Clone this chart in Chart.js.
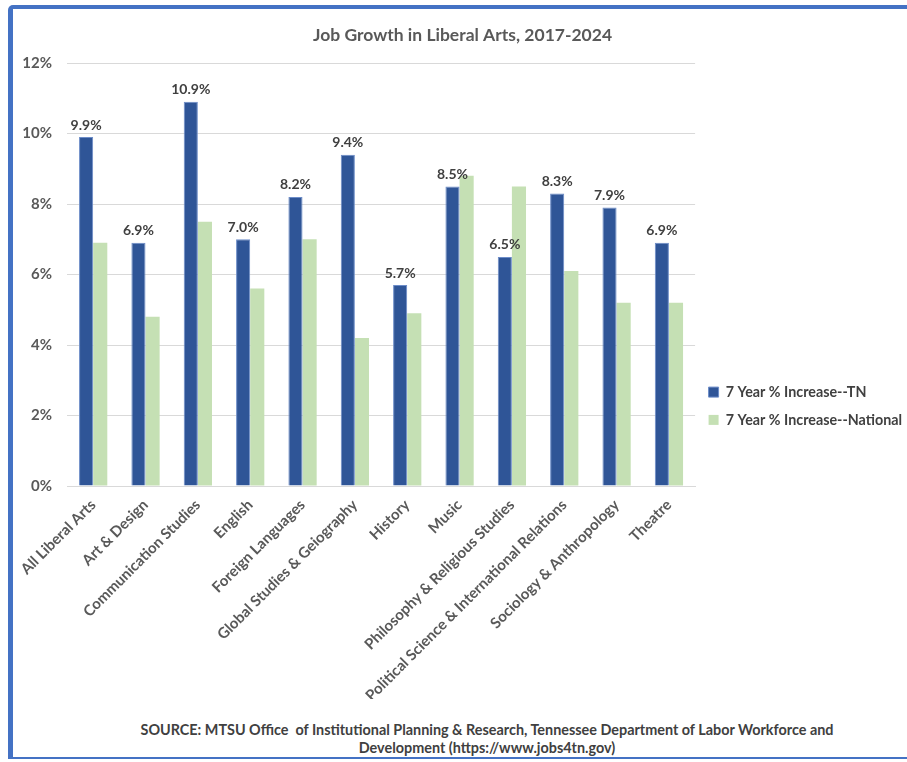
<!DOCTYPE html>
<html>
<head>
<meta charset="utf-8">
<script src="https://cdn.jsdelivr.net/npm/chart.js@4.4.1/dist/chart.umd.min.js"></script>
<style>
    body { margin: 0; background: #fff; width: 907px; height: 762px; overflow: hidden; }
    #frame {
        position: absolute; left: 8px; top: 5px; width: 910px; height: 748px;
        border-left: 5px solid #4472C4; border-top: 4px solid #4472C4;
        border-bottom: 2px solid #4472C4; border-top-left-radius: 5px;
    }
    #wrap { position: absolute; left: 0; top: 0; width: 899px; height: 690px; }
    #source {
        position: absolute; left: 0; width: 974px; top: 721px; text-align: center;
        font: bold 14.4px Lato, sans-serif; color: #404040; line-height: 18px;
    }
</style>
</head>
<body>
<div id="frame">
    <div id="wrap"><canvas id="chart"></canvas></div>
</div>
<div id="source">SOURCE: MTSU Office&nbsp; of Institutional Planning &amp; Research, Tennessee Department of Labor Workforce and<br>Development (https://www.jobs4tn.gov)</div>
<script>
const categories = [
    "All Liberal Arts", "Art & Design", "Communication Studies", "English",
    "Foreign Languages", "Global Studies & Geiography", "History", "Music",
    "Philosophy & Religious Studies", "Political Science & International Relations",
    "Sociology & Anthropology", "Theatre"
];
const tnGrowth = [9.9, 6.9, 10.9, 7.0, 8.2, 9.4, 5.7, 8.5, 6.5, 8.3, 7.9, 6.9];
const nationalGrowth = [6.9, 4.8, 7.5, 5.6, 7.0, 4.2, 4.9, 8.8, 8.5, 6.1, 5.2, 5.2];
const yTicks = [0, 2, 4, 6, 8, 10, 12];

// labels over the TN bars only
const tnLabels = {
    id: "tnLabels",
    afterDatasetsDraw(chart) {
        let ctx = chart.ctx;
        let meta = chart.getDatasetMeta(0);
        ctx.save();
        ctx.font = "bold 14px Lato, sans-serif";
        ctx.fillStyle = "#404040";
        ctx.textAlign = "center";
        ctx.textBaseline = "bottom";
        meta.data.forEach((bar, i) => {
            ctx.fillText(tnGrowth[i].toFixed(1) + "%", bar.x, bar.y - 5);
        });
        ctx.restore();
    }
};

Chart.defaults.font.family = "Lato, sans-serif";
Chart.defaults.font.weight = "bold";
Chart.defaults.color = "#595959";

new Chart(document.getElementById("chart"), {
    type: "bar",
    data: {
        labels: categories,
        datasets: [
            {
                label: "7 Year % Increase--TN",
                data: tnGrowth,
                backgroundColor: "#2F5597",
                borderColor: "#6C8CC8",
                borderWidth: 1,
            },
            {
                label: "7 Year % Increase--National",
                data: nationalGrowth,
                backgroundColor: "#C5E0B4",
                borderWidth: 0,
            },
        ],
    },
    options: {
        responsive: true,
        maintainAspectRatio: false,
        animation: false,
        datasets: { bar: { categoryPercentage: 0.54, barPercentage: 1 } },
        layout: { padding: 0 },
        plugins: {
            title: {
                display: true,
                text: "Job Growth in Liberal Arts, 2017-2024",
                color: "#595959",
                font: { size: 17.5, weight: "bold" },
                padding: { top: 16, bottom: 17 },
            },
            legend: {
                position: "right",
                // blank title only pushes the centred items down
                title: { display: true, text: " ", font: { size: 10 }, padding: { top: 92, bottom: 0 } },
                labels: {
                    boxWidth: 10,
                    boxHeight: 10,
                    padding: 13.5,
                    color: "#404040",
                    font: { size: 14.3, weight: "bold" },
                },
            },
            tooltip: { enabled: false },
        },
        scales: {
            x: {
                grid: { display: false },
                border: { color: "#D9D9D9" },
                afterFit: (axis) => {
                    axis.paddingLeft = 0;
                    axis.paddingRight = 0;
                    axis.height = 213;
                },
                ticks: {
                    minRotation: 45,
                    maxRotation: 45,
                    autoSkip: false,
                    padding: 2,
                    color: "#595959",
                    font: { size: 15, weight: "bold" },
                },
            },
            y: {
                min: 0,
                max: 12,
                afterBuildTicks: (axis) => {
                    axis.ticks = yTicks.map((v) => ({ value: v }));
                },
                afterFit: (axis) => {
                    axis.width = 54;
                    axis.paddingTop = 0;
                    axis.paddingBottom = 0;
                },
                grid: { color: "#D9D9D9", drawTicks: false },
                border: { display: false },
                ticks: {
                    padding: 15,
                    color: "#595959",
                    font: { size: 15, weight: "bold" },
                    callback: (v) => v + "%",
                },
            },
        },
    },
    plugins: [tnLabels],
});
</script>
</body>
</html>
